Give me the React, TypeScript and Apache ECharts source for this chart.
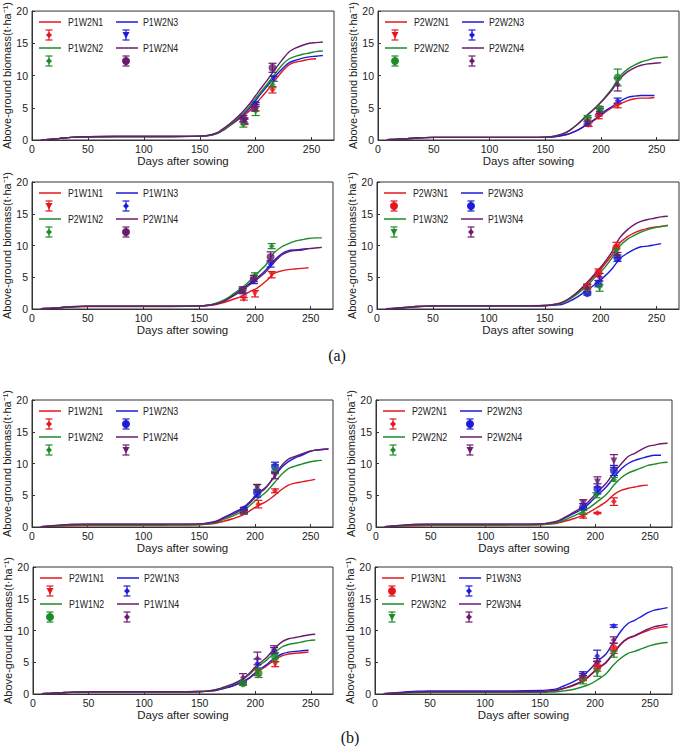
import React, { useEffect, useRef } from "react";
import * as echarts from "echarts";

// ---------- data ----------
const simDays = [8, 15, 25, 35, 50, 75, 100, 125, 150, 158, 165, 172, 180, 188, 195, 202, 210, 217, 224, 230, 236, 242, 248, 254, 260, 266];
const xTicks = [0, 50, 100, 150, 200, 250];
const yTicks = [0, 5, 10, 15, 20];

// panel (a)-1
const a1N1 = [0.05,0.1,0.25,0.4,0.5,0.55,0.55,0.55,0.6,0.7, 1.0,1.6,2.6,3.6,4.6,6.0,7.6,9.2,10.7,11.7,12.1,12.3,12.5,12.6,null,null];
const a1N3 = [0.05,0.1,0.25,0.4,0.5,0.55,0.55,0.55,0.6,0.7, 1.0,1.7,2.7,3.8,5.0,6.6,8.3,9.8,11.1,12.0,12.4,12.7,12.9,13.0,13.1,null];
const a1N2 = [0.05,0.1,0.25,0.4,0.5,0.55,0.55,0.55,0.6,0.72, 1.05,1.7,2.8,4.0,5.3,6.9,8.6,10.2,11.7,12.6,13.0,13.3,13.5,13.7,13.8,null];
const a1N4 = [0.05,0.1,0.25,0.4,0.5,0.55,0.55,0.55,0.6,0.75, 1.1,1.9,3.0,4.3,5.7,7.4,9.2,10.9,12.5,13.7,14.3,14.7,15.0,15.1,15.2,null];
const o1N1 = [[190,2.8,0.4],[200,5.0,0.5],[215,7.8,0.5]];
const o1N3 = [[190,3.0,0.4],[200,5.5,0.3],[216,9.5,0.4]];
const o1N2 = [[189,2.4,0.4],[200,4.5,0.7],[215,8.6,0.5]];
const o1N4 = [[189,3.3,0.5],[199,5.0,0.5],[215,11.2,0.7]];

// panel (a)-2
const a2N1 = [0.05,0.1,0.2,0.3,0.4,0.4,0.4,0.4,0.45,0.5, 0.7,1.0,1.6,2.4,3.2,4.1,5.0,5.6,6.1,6.4,6.5,6.5,6.6,null,null,null];
const a2N3 = [0.05,0.1,0.2,0.3,0.4,0.4,0.4,0.4,0.45,0.5, 0.7,1.0,1.6,2.5,3.3,4.3,5.2,6.0,6.6,6.8,6.9,6.9,6.9,null,null,null];
const a2N2 = [0.05,0.1,0.2,0.3,0.4,0.4,0.4,0.4,0.45,0.6, 0.9,1.5,2.6,3.9,5.0,6.3,8.0,9.9,11.0,11.6,12.1,12.4,12.7,12.8,12.9,null];
const a2N4 = [0.05,0.1,0.2,0.3,0.4,0.4,0.4,0.4,0.45,0.6, 0.9,1.5,2.6,3.9,5.0,6.2,7.8,9.5,10.6,11.2,11.6,11.8,11.9,12.0,null,null];
const o2N1 = [[189,2.4,0.3],[198,3.6,0.3],[215,5.3,0.3]];
const o2N3 = [[188,2.6,0.3],[199,4.5,0.4],[215,6.1,0.4]];
const o2N2 = [[188,3.3,0.5],[199,4.8,0.4],[215,9.7,1.3]];
const o2N4 = [[188,3.0,0.5],[198,4.3,0.6],[215,8.6,1.0]];

// panel (a)-3
const a3N1 = [0.05,0.1,0.2,0.3,0.4,0.4,0.4,0.4,0.45,0.55, 0.7,1.0,1.5,2.0,2.7,3.3,4.4,5.6,6.0,6.2,6.3,6.4,6.5,null,null,null];
const a3N3 = [0.05,0.1,0.2,0.35,0.45,0.45,0.45,0.45,0.5,0.6, 0.8,1.3,2.1,3.1,4.0,4.9,6.2,7.6,8.7,9.2,9.3,9.4,9.5,null,null,null];
const a3N2 = [0.05,0.1,0.2,0.35,0.45,0.45,0.45,0.45,0.5,0.6, 0.9,1.4,2.3,3.3,4.4,5.6,7.0,8.8,9.8,10.3,10.7,10.9,11.1,11.2,11.2,null];
const a3N4 = [0.05,0.1,0.2,0.35,0.45,0.45,0.45,0.45,0.5,0.6, 0.8,1.2,2.0,2.9,3.8,4.7,5.9,7.3,8.5,9.0,9.2,9.3,9.5,9.6,9.7,null];
const o3N1 = [[190,1.6,0.2],[200,2.4,0.5],[215,5.4,0.5]];
const o3N3 = [[189,2.8,0.4],[199,4.4,0.4],[214,7.1,0.5]];
const o3N2 = [[189,2.9,0.4],[200,5.3,0.4],[215,9.9,0.4]];
const o3N4 = [[189,3.0,0.5],[199,4.8,0.5],[214,8.2,0.8]];

// panel (a)-4
const a4N1 = [0.05,0.1,0.25,0.4,0.5,0.5,0.5,0.5,0.55,0.7, 1.0,1.6,2.7,4.0,5.3,6.7,8.5,10.4,11.4,12.0,12.4,12.7,12.9,13.0,13.1,null];
const a4N3 = [0.05,0.1,0.2,0.35,0.45,0.45,0.45,0.45,0.5,0.6, 0.7,1.2,2.0,3.0,3.9,4.9,6.3,7.9,8.8,9.4,9.8,9.9,10.1,10.3,null,null];
const a4N2 = [0.05,0.1,0.25,0.4,0.5,0.5,0.5,0.5,0.55,0.65, 0.9,1.5,2.5,3.7,5.0,6.2,8.0,9.9,11.0,11.6,12.1,12.5,12.8,13.0,13.2,null];
const a4N4 = [0.05,0.1,0.25,0.4,0.5,0.5,0.5,0.5,0.55,0.7, 1.0,1.7,2.8,4.2,5.6,7.0,9.0,11.2,12.5,13.3,13.8,14.1,14.3,14.5,14.6,null];
const o4N1 = [[188,3.5,0.4],[198,5.7,0.6],[214,9.7,0.8]];
const o4N3 = [[188,2.5,0.3],[198,4.0,0.5],[215,8.0,0.5]];
const o4N2 = [[188,2.9,0.4],[199,3.3,0.5],[214,9.0,0.5]];
const o4N4 = [[188,3.3,0.6],[199,5.0,0.6],[215,8.5,0.4]];

// panel (b)-1
const b1N1 = [0.05,0.1,0.15,0.2,0.25,0.25,0.25,0.3,0.35,0.45, 0.6,0.9,1.3,1.8,2.5,3.3,4.0,4.9,5.9,6.6,6.9,7.1,7.3,7.5,null,null];
const b1N3 = [0.05,0.15,0.3,0.4,0.45,0.45,0.45,0.45,0.5,0.65, 0.9,1.5,2.2,2.9,3.9,5.2,6.3,7.8,9.4,10.3,10.9,11.3,11.8,12.1,12.2,12.3];
const b1N2 = [0.05,0.1,0.2,0.3,0.35,0.35,0.35,0.35,0.4,0.5, 0.7,1.2,1.7,2.4,3.3,4.4,5.5,6.9,8.3,9.2,9.6,9.9,10.2,10.4,10.5,null];
const b1N4 = [0.05,0.15,0.3,0.4,0.45,0.45,0.45,0.45,0.5,0.6, 0.8,1.4,2.0,2.7,3.7,5.0,6.2,7.9,9.7,10.7,11.1,11.5,11.9,12.1,12.2,12.3];
const p1N1 = [[190,2.3,0.3],[203,3.6,0.6],[218,5.7,0.3]];
const p1N3 = [[190,2.7,0.4],[202,5.3,0.6],[218,9.5,0.7]];
const p1N2 = [[190,2.4,0.3],[202,6.1,0.6],[218,9.1,0.7]];
const p1N4 = [[190,2.5,0.3],[202,6.2,0.5],[218,8.1,0.5]];

// panel (b)-2
const b2N1 = [0.05,0.1,0.15,0.2,0.25,0.25,0.25,0.3,0.35,0.45, 0.6,0.9,1.3,1.8,2.4,3.1,4.0,5.1,5.8,6.1,6.3,6.5,6.6,null,null,null];
const b2N3 = [0.05,0.15,0.3,0.4,0.45,0.45,0.45,0.45,0.5,0.6, 0.8,1.4,2.1,2.8,3.8,5.0,6.3,7.8,9.2,10.0,10.5,10.8,11.1,11.3,11.3,null];
const b2N2 = [0.05,0.1,0.2,0.3,0.35,0.35,0.35,0.35,0.4,0.5, 0.7,1.1,1.7,2.4,3.1,4.0,5.1,6.6,7.8,8.5,8.9,9.3,9.7,9.9,10.1,10.2];
const b2N4 = [0.05,0.15,0.3,0.4,0.45,0.45,0.45,0.45,0.5,0.65, 0.9,1.5,2.3,3.1,4.2,5.5,6.9,8.6,10.0,11.1,11.6,12.2,12.7,12.9,13.1,13.2];
const p2N1 = [[189,1.7,0.3],[202,2.2,0.1],[217,4.0,0.6]];
const p2N3 = [[189,3.2,0.5],[202,6.0,0.8],[217,8.9,0.8]];
const p2N2 = [[189,2.3,0.3],[201,5.0,0.4],[217,7.5,0.3]];
const p2N4 = [[189,3.7,0.6],[202,7.1,0.8],[217,10.4,1.0]];

// panel (b)-3
const b3N1 = [0.05,0.1,0.15,0.25,0.3,0.3,0.3,0.3,0.35,0.45, 0.6,0.9,1.3,1.8,2.5,3.5,4.4,5.3,6.0,6.3,6.4,6.5,6.6,null,null,null];
const b3N3 = [0.05,0.1,0.2,0.3,0.35,0.35,0.35,0.35,0.4,0.45, 0.6,0.9,1.3,1.9,2.6,3.6,4.6,5.6,6.3,6.6,6.7,6.8,6.9,null,null,null];
const b3N2 = [0.05,0.1,0.2,0.3,0.35,0.35,0.35,0.35,0.4,0.5, 0.7,1.0,1.5,2.2,3.1,4.3,5.3,6.4,7.4,7.8,8.0,8.2,8.4,8.5,null,null];
const b3N4 = [0.05,0.1,0.2,0.3,0.35,0.35,0.35,0.35,0.4,0.5, 0.7,1.1,1.6,2.3,3.3,4.6,5.7,7.1,8.2,8.7,8.9,9.1,9.3,9.4,null,null];
const p3N1 = [[189,1.6,0.2],[202,3.4,0.5],[218,4.7,0.4]];
const p3N3 = [[189,1.8,0.3],[202,4.8,0.7],[217,6.8,0.5]];
const p3N2 = [[189,1.7,0.3],[203,3.3,0.7],[218,5.8,0.7]];
const p3N4 = [[189,2.6,0.6],[202,5.6,1.0],[217,7.0,0.6]];

// panel (b)-4
const b4N1 = [0.05,0.1,0.2,0.3,0.35,0.35,0.35,0.35,0.4,0.45, 0.6,0.9,1.3,1.9,2.8,3.9,4.9,6.4,7.9,8.7,9.1,9.6,10.0,10.3,10.5,10.6];
const b4N3 = [0.05,0.15,0.3,0.4,0.5,0.5,0.5,0.5,0.55,0.65, 0.8,1.3,1.9,2.7,3.8,5.1,6.3,8.2,10.0,11.1,11.6,12.2,12.8,13.2,13.4,13.6];
const b4N2 = [0.05,0.1,0.15,0.2,0.25,0.25,0.25,0.25,0.25,0.3, 0.35,0.5,0.7,1.1,1.5,2.2,3.2,4.6,5.7,6.4,6.7,7.1,7.5,7.8,8.0,8.1];
const b4N4 = [0.05,0.1,0.2,0.3,0.35,0.35,0.35,0.35,0.4,0.45, 0.6,0.9,1.4,2.0,2.9,4.0,5.0,6.5,8.0,8.8,9.2,9.7,10.2,10.6,10.8,11.0];
const p4N1 = [[189,2.5,0.4],[202,4.4,0.8],[217,7.2,0.8]];
const p4N3 = [[189,3.2,0.3],[202,6.0,0.9],[217,10.7,0.2]];
const p4N2 = [[189,2.0,0.4],[202,3.4,0.6],[217,6.3,0.5]];
const p4N4 = [[189,2.8,0.4],[202,5.0,0.6],[217,8.5,0.5]];

// legend order: N1, N3, N2, N4
const labels1 = ["P1W2N1", "P1W2N3", "P1W2N2", "P1W2N4"];
const labels2 = ["P2W2N1", "P2W2N3", "P2W2N2", "P2W2N4"];
const labels3 = ["P1W1N1", "P1W1N3", "P2W1N2", "P2W1N4"];
const labels4 = ["P2W3N1", "P2W3N3", "P1W3N2", "P1W3N4"];
const labels5 = ["P1W2N1", "P1W2N3", "P1W2N2", "P1W2N4"];
const labels6 = ["P2W2N1", "P2W2N3", "P2W2N2", "P2W2N4"];
const labels7 = ["P2W1N1", "P2W1N3", "P1W1N2", "P1W1N4"];
const labels8 = ["P1W3N1", "P1W3N3", "P2W3N2", "P2W3N4"];

const COLORS = ["#e3161e", "#1c1cd8", "#1e8a28", "#6a1b6c"];
const FONT = "'Liberation Sans', Arial, sans-serif";

const panels = [
  { g: [32, 11, 302, 129], labels: labels1, sims: [a1N1, a1N3, a1N2, a1N4], obs: [o1N1, o1N3, o1N2, o1N4], mk: ["d", "t", "d", "c"] },
  { g: [378, 11, 301, 129], labels: labels2, sims: [a2N1, a2N3, a2N2, a2N4], obs: [o2N1, o2N3, o2N2, o2N4], mk: ["t", "d", "c", "d"] },
  { g: [32, 182, 301, 127], labels: labels3, sims: [a3N1, a3N3, a3N2, a3N4], obs: [o3N1, o3N3, o3N2, o3N4], mk: ["t", "d", "d", "c"] },
  { g: [377, 182, 302, 127], labels: labels4, sims: [a4N1, a4N3, a4N2, a4N4], obs: [o4N1, o4N3, o4N2, o4N4], mk: ["c", "c", "t", "d"] },
  { g: [32, 400, 301, 127], labels: labels5, sims: [b1N1, b1N3, b1N2, b1N4], obs: [p1N1, p1N3, p1N2, p1N4], mk: ["d", "c", "d", "t"] },
  { g: [376, 400, 296, 127], labels: labels6, sims: [b2N1, b2N3, b2N2, b2N4], obs: [p2N1, p2N3, p2N2, p2N4], mk: ["d", "c", "d", "t"] },
  { g: [33, 567, 300, 127], labels: labels7, sims: [b3N1, b3N3, b3N2, b3N4], obs: [p3N1, p3N3, p3N2, p3N4], mk: ["t", "d", "c", "d"] },
  { g: [375, 567, 297, 127], labels: labels8, sims: [b4N1, b4N3, b4N2, b4N4], obs: [p4N1, p4N3, p4N2, p4N4], mk: ["c", "d", "t", "d"] },
];

function symbolOf(m: string) {
  if (m === "c") return { symbol: "circle", symbolSize: 8, symbolRotate: 0 };
  if (m === "t") return { symbol: "triangle", symbolSize: 7, symbolRotate: 180 };
  return { symbol: "diamond", symbolSize: 6, symbolRotate: 0 };
}

function legendMarker(m: string, cx: number, cy: number, color: string) {
  if (m === "c") return { type: "circle", shape: { cx, cy, r: 4 }, style: { fill: color } };
  if (m === "t")
    return { type: "polygon", shape: { points: [[cx - 3.5, cy - 3], [cx + 3.5, cy - 3], [cx, cy + 3.5]] }, style: { fill: color } };
  return { type: "polygon", shape: { points: [[cx, cy - 3], [cx + 3, cy], [cx, cy + 3], [cx - 3, cy]] }, style: { fill: color } };
}

function buildOption() {
  const grid: any[] = [];
  const xAxis: any[] = [];
  const yAxis: any[] = [];
  const series: any[] = [];
  const graphic: any[] = [];

  panels.forEach((p, pi) => {
    const [l, t, w, h] = p.g;
    grid.push({ left: l, top: t, width: w, height: h, show: true, borderColor: "#333", borderWidth: 1, backgroundColor: "transparent" });
    xAxis.push({
      type: "value", gridIndex: pi, min: 0, max: 270, interval: 50,
      name: "Days after sowing", nameLocation: "middle", nameGap: 14,
      nameTextStyle: { fontSize: 11.5, color: "#222", fontFamily: FONT },
      axisLine: { lineStyle: { color: "#333" } },
      axisTick: { inside: true, length: 3, lineStyle: { color: "#333" } },
      axisLabel: { fontSize: 10.5, color: "#222", margin: 3, fontFamily: FONT, showMaxLabel: false,
        formatter: (v: number) => (xTicks.indexOf(v) >= 0 ? String(v) : "") },
      splitLine: { show: false },
    });
    yAxis.push({
      type: "value", gridIndex: pi, min: 0, max: 20, interval: 5,
      name: "Above-ground biomass(t·ha⁻¹)", nameLocation: "middle", nameGap: 18,
      nameTextStyle: { fontSize: 11, color: "#222", fontFamily: FONT },
      axisLine: { lineStyle: { color: "#333" } },
      axisTick: { inside: true, length: 3, lineStyle: { color: "#333" } },
      axisLabel: { fontSize: 10.5, color: "#222", margin: 4, fontFamily: FONT,
        formatter: (v: number) => (yTicks.indexOf(v) >= 0 ? String(v) : "") },
      splitLine: { show: false },
    });

    p.sims.forEach((arr, si) => {
      const color = COLORS[si];
      series.push({
        type: "line", xAxisIndex: pi, yAxisIndex: pi, name: p.labels[si] + " sim",
        data: simDays.map((d, i) => [d, arr[i]]).filter((q) => q[1] != null),
        showSymbol: false, smooth: 0.3, lineStyle: { color, width: 1.4 }, itemStyle: { color },
        z: 2,
      });
    });
    p.obs.forEach((arr, si) => {
      const color = COLORS[si];
      series.push({
        type: "custom", xAxisIndex: pi, yAxisIndex: pi, name: p.labels[si] + " err",
        data: arr, encode: { x: 0, y: 1 }, z: 3,
        renderItem: (params: any, api: any) => {
          const x = api.value(0), y = api.value(1), e = api.value(2);
          const top = api.coord([x, y + e]);
          const bot = api.coord([x, y - e]);
          const hw = 4;
          const st = { stroke: color, lineWidth: 1.2 };
          return {
            type: "group",
            children: [
              { type: "line", shape: { x1: top[0], y1: top[1], x2: bot[0], y2: bot[1] }, style: st },
              { type: "line", shape: { x1: top[0] - hw, y1: top[1], x2: top[0] + hw, y2: top[1] }, style: st },
              { type: "line", shape: { x1: bot[0] - hw, y1: bot[1], x2: bot[0] + hw, y2: bot[1] }, style: st },
            ],
          };
        },
      });
      const sym = symbolOf(p.mk[si]);
      series.push({
        type: "scatter", xAxisIndex: pi, yAxisIndex: pi, name: p.labels[si] + " obs",
        data: arr.map((q) => [q[0], q[1]]),
        symbol: sym.symbol, symbolSize: sym.symbolSize, symbolRotate: sym.symbolRotate,
        itemStyle: { color }, z: 4,
      });
    });

    // legend
    p.labels.forEach((lab, si) => {
      const col = si % 2;
      const row = Math.floor(si / 2);
      const color = COLORS[si];
      const lx = l + 7 + col * 77;
      const ly = t + 11 + row * 26;
      graphic.push({ type: "line", shape: { x1: lx, y1: ly, x2: lx + 22, y2: ly }, style: { stroke: color, lineWidth: 1.5 } });
      graphic.push({ type: "text", x: l + 36 + col * 75, y: ly, scaleX: 0.8, style: { text: lab, fill: "#222", fontSize: 11, fontFamily: FONT, verticalAlign: "middle" } });
      const mx = l + 17 + col * 77;
      const my = t + 24 + row * 26;
      graphic.push({ type: "line", shape: { x1: mx, y1: my - 5, x2: mx, y2: my + 5 }, style: { stroke: color, lineWidth: 1.2 } });
      graphic.push({ type: "line", shape: { x1: mx - 3.5, y1: my - 5, x2: mx + 3.5, y2: my - 5 }, style: { stroke: color, lineWidth: 1.2 } });
      graphic.push({ type: "line", shape: { x1: mx - 3.5, y1: my + 5, x2: mx + 3.5, y2: my + 5 }, style: { stroke: color, lineWidth: 1.2 } });
      graphic.push(legendMarker(p.mk[si], mx, my, color));
    });
  });

  graphic.push({ type: "text", x: 337, y: 355, style: { text: "(a)", fill: "#111", fontSize: 16, fontFamily: "'Liberation Serif', 'Times New Roman', serif", align: "center", verticalAlign: "middle" } });
  graphic.push({ type: "text", x: 350, y: 737, style: { text: "(b)", fill: "#111", fontSize: 16, fontFamily: "'Liberation Serif', 'Times New Roman', serif", align: "center", verticalAlign: "middle" } });

  return { animation: false, backgroundColor: "#fff", grid, xAxis, yAxis, series, graphic };
}

export default function App() {
  const ref = useRef<HTMLDivElement>(null);
  useEffect(() => {
    if (!ref.current) return;
    const chart = echarts.init(ref.current, undefined, { renderer: "svg" });
    chart.setOption(buildOption() as any);
    return () => chart.dispose();
  }, []);
  return <div ref={ref} style={{ position: "absolute", left: 0, top: 0, width: 685, height: 746, background: "#fff" }} />;
}
